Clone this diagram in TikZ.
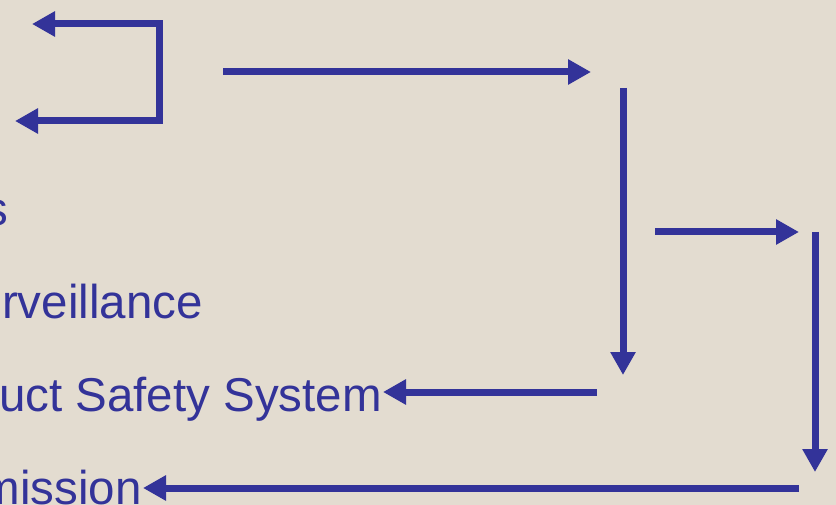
\documentclass[tikz,border=0pt]{standalone}
\usepackage{fontspec}
\setmainfont{Liberation Sans}
\usetikzlibrary{arrows.meta}
\definecolor{bg}{HTML}{E3DCD0}
\definecolor{ink}{HTML}{333399}
\begin{document}
\begin{tikzpicture}[x=1pt,y=-1pt,
  arr/.style={draw=ink,line width=7pt,line join=miter,-{Triangle[length=23pt,width=24pt]}},
  darr/.style={draw=ink,line width=7pt,line join=miter,{Triangle[length=23pt,width=24pt]}-{Triangle[length=23pt,width=24pt]}},
  lbl/.style={inner sep=0pt,anchor=base east,text=ink,font=\fontsize{47.5}{57}\selectfont}]
\useasboundingbox (0,0) rectangle (836,505);
\fill[bg] (0,0) rectangle (836,505);
\clip (0,0) rectangle (836,505);
% texts
\node[lbl] (t1) at (8,226) {s};
\node[lbl] (t2) at (203,319) {rveillance};
\node[lbl] (t3) at (382,411.7) {uct Safety System};
\node[lbl] (t4) at (142,504) {mission};
% coordinates
\coordinate (b1) at (32,24);
\coordinate (b2) at (159,24);
\coordinate (b3) at (159,121);
\coordinate (b4) at (15,121);
\coordinate (a1s) at (223,72);
\coordinate (a1e) at (591,72);
\coordinate (a2s) at (623,88);
\coordinate (a2e) at (623,375);
\coordinate (a3s) at (597,392);
\coordinate (a3e) at (383,392);
\coordinate (a4s) at (655,232);
\coordinate (a4e) at (799,232);
\coordinate (a5s) at (815,232);
\coordinate (a5e) at (815,472);
\coordinate (a6s) at (799,488);
\coordinate (a6e) at (143,488);
% arrows
\draw[darr] (b1) -- (b2) -- (b3) -- (b4);
\draw[arr] (a1s) -- (a1e);
\draw[arr] (a2s) -- (a2e);
\draw[arr] (a3s) -- (a3e);
\draw[arr] (a4s) -- (a4e);
\draw[arr] (a5s) -- (a5e);
\draw[arr] (a6s) -- (a6e);
\end{tikzpicture}
\end{document}
